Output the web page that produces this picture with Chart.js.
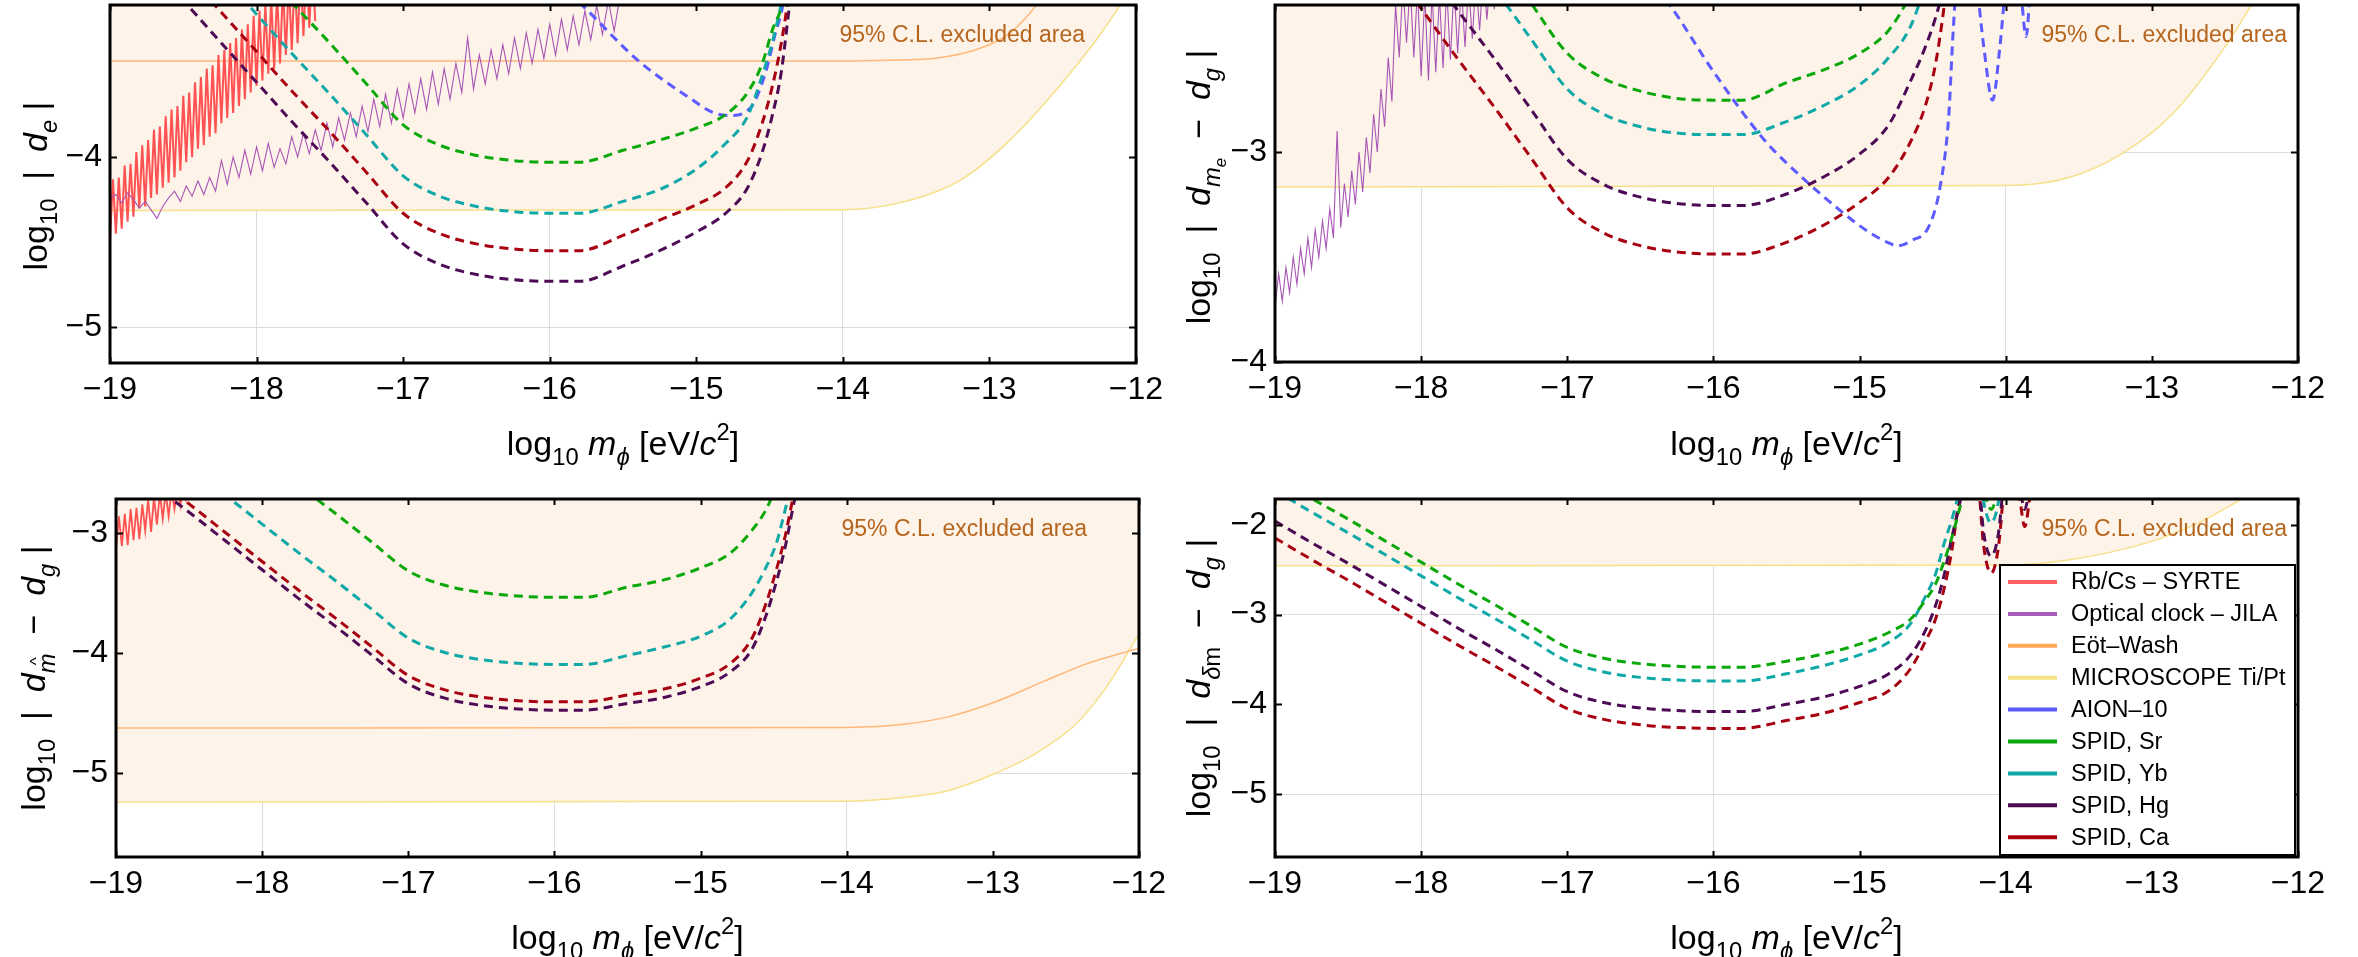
<!DOCTYPE html>
<html>
<head>
<meta charset="utf-8">
<script src="https://cdn.jsdelivr.net/npm/chart.js@4.4.1/dist/chart.umd.min.js"></script>
<style>
  html, body { margin: 0; padding: 0; background: #fff; }
  #wrap { position: relative; width: 2358px; height: 957px; overflow: hidden; }
  canvas { position: absolute; }
</style>
</head>
<body>
<div id="wrap">
  <canvas id="c1" width="1180" height="478" style="left:0;top:0"></canvas>
  <canvas id="c2" width="1179" height="478" style="left:1179px;top:0"></canvas>
  <canvas id="c3" width="1180" height="479" style="left:0;top:478px"></canvas>
  <canvas id="c4" width="1179" height="479" style="left:1179px;top:478px"></canvas>
</div>
<script>
const FONT = '"Liberation Sans", Arial, Helvetica, sans-serif';

// legend
const legendNames = ['Rb/Cs – SYRTE', 'Optical clock – JILA', 'Eöt–Wash', 'MICROSCOPE Ti/Pt', 'AION–10',
  'SPID, Sr', 'SPID, Yb', 'SPID, Hg', 'SPID, Ca'];
const legendColors = ['#FF5F5F', '#A95CB8', '#FFA85A', '#F5E184', '#5B5BFF',
  '#0AA80A', '#11A8A8', '#4D0A55', '#A80010'];

const xTicks = [-19, -18, -17, -16, -15, -14, -13, -12];

// SPID sensitivity curves, log10 m on x
const spidX = [-19, -18.75, -18.5, -18.25, -18, -17.75, -17.5, -17.25, -17, -16.75, -16.5, -16.25, -16, -15.8,
  -15.5, -15.25, -15, -14.8, -14.65, -14.55, -14.48, -14.42, -14.37, -14.32, -14.28];
const spidX4 = [-19, -18.75, -18.5, -18.25, -18, -17.75, -17.5, -17.25, -17, -16.75, -16.5, -16.25, -16, -15.8,
  -15.5, -15.25, -15, -14.8, -14.65, -14.55, -14.48, -14.42, -14.37, -14.32, -14.28,
  -14.2, -14.15, -14.1, -14.05, -14.0, -13.95, -13.9, -13.87, -13.84, -13.8];

// panel 1: d_e
const sr1 = [-1.91, -2.15, -2.38, -2.62, -2.86, -3.10, -3.33, -3.57, -3.81, -3.93, -3.99, -4.02, -4.03, -4.03, -3.96, -3.90, -3.83, -3.75, -3.62, -3.45, -3.25, -3.12, -2.90, -2.60, -2.30];
const yb1 = [-2.21, -2.45, -2.68, -2.92, -3.16, -3.40, -3.63, -3.87, -4.11, -4.23, -4.29, -4.32, -4.33, -4.33, -4.26, -4.19, -4.07, -3.92, -3.76, -3.52, -3.32, -3.10, -2.90, -2.60, -2.30];
const hg1 = [-2.61, -2.85, -3.08, -3.32, -3.56, -3.80, -4.03, -4.27, -4.51, -4.63, -4.69, -4.72, -4.73, -4.73, -4.64, -4.55, -4.44, -4.33, -4.18, -3.97, -3.75, -3.50, -3.15, -2.80, -2.40];
const ca1 = [-2.43, -2.67, -2.90, -3.14, -3.38, -3.62, -3.85, -4.09, -4.33, -4.45, -4.51, -4.54, -4.55, -4.55, -4.46, -4.37, -4.28, -4.18, -4.02, -3.80, -3.58, -3.33, -3.05, -2.70, -2.30];
const aionX1 = [-16.1, -15.78, -15.4, -15.05, -14.88, -14.77, -14.63, -14.53, -14.46, -14.41, -14.36, -14.3];
const aionY1 = [-2.85, -3.106, -3.43, -3.65, -3.74, -3.755, -3.71, -3.51, -3.27, -3.106, -2.75, -2.3];
const eotX1 = [-19, -14, -13.7, -13.38, -13.03, -12.86, -12.68, -12.5];
const eotY1 = [-3.435, -3.435, -3.43, -3.42, -3.35, -3.27, -3.106, -2.85];
const micX1 = [-19, -14, -13.55, -13.2, -12.86, -12.51, -12.27, -12.11, -12.0];
const micY1 = [-4.314, -4.31, -4.255, -4.137, -3.90, -3.57, -3.31, -3.11, -2.95];
// Rb/Cs, x from -19 every 0.02
const rbcs1 = [-4.49, -4.13, -4.45, -4.12, -4.42, -4.05, -4.38, -4.04, -4.35, -3.97,
  -4.30, -3.93, -4.29, -3.90, -4.24, -3.84, -4.22, -3.82, -4.18, -3.76,
  -4.15, -3.72, -4.12, -3.70, -4.08, -3.64, -4.03, -3.62, -4.00, -3.56,
  -3.95, -3.53, -3.93, -3.48, -3.88, -3.46, -3.86, -3.40, -3.80, -3.37,
  -3.77, -3.33, -3.74, -3.30, -3.70, -3.25, -3.66, -3.22, -3.62, -3.17,
  -3.58, -3.14, -3.55, -3.10, -3.51, -3.06, -3.48, -3.03, -3.45, -2.99,
  -3.40, -2.96, -3.37, -2.93, -3.33, -2.90, -3.29, -2.87, -3.24, -2.84, -3.20];
// JILA, x from -19 every 0.04
const jila1 = [-4.24, -4.22, -4.27, -4.21, -4.25, -4.30, -4.26, -4.31, -4.36, -4.29,
  -4.24, -4.20, -4.26, -4.17, -4.23, -4.14, -4.22, -4.12, -4.20, -4.02,
  -4.16, -4.00, -4.12, -3.96, -4.10, -3.94, -4.08, -3.92, -4.06, -3.95,
  -4.04, -3.88, -4.00, -3.86, -3.98, -3.84, -3.96, -3.80, -3.94, -3.77,
  -3.90, -3.74, -3.88, -3.70, -3.85, -3.66, -3.82, -3.63, -3.80, -3.60,
  -3.77, -3.57, -3.74, -3.54, -3.72, -3.50, -3.69, -3.48, -3.66, -3.45,
  -3.62, -3.30, -3.60, -3.40, -3.57, -3.37, -3.54, -3.34, -3.51, -3.30,
  -3.48, -3.27, -3.45, -3.25, -3.42, -3.22, -3.40, -3.19, -3.37, -3.17,
  -3.34, -3.14, -3.31, -3.11, -3.28, -3.08, -3.26, -3.05];

// panel 2: d_me - d_g
const sr2 = [-0.63, -0.87, -1.10, -1.34, -1.58, -1.82, -2.05, -2.29, -2.53, -2.65, -2.71, -2.745, -2.753, -2.753, -2.67, -2.61, -2.53, -2.42, -2.25, -2.10, -1.90, -1.70, -1.50, -1.30, -1.10];
const yb2 = [-0.80, -1.04, -1.27, -1.51, -1.75, -1.99, -2.22, -2.46, -2.70, -2.82, -2.88, -2.91, -2.917, -2.917, -2.855, -2.78, -2.68, -2.55, -2.40, -2.20, -2.00, -1.80, -1.60, -1.40, -1.20];
const hg2 = [-1.135, -1.375, -1.605, -1.845, -2.085, -2.325, -2.555, -2.795, -3.035, -3.155, -3.215, -3.245, -3.255, -3.255, -3.20, -3.12, -3.01, -2.87, -2.66, -2.50, -2.36, -2.20, -2.00, -1.70, -1.40];
const ca2 = [-1.366, -1.606, -1.836, -2.076, -2.316, -2.556, -2.786, -3.026, -3.266, -3.386, -3.446, -3.476, -3.486, -3.486, -3.43, -3.35, -3.24, -3.12, -2.95, -2.78, -2.58, -2.30, -2.00, -1.70, -1.40];
const aionX2 = [-16.6, -16.3, -16.0, -15.65, -15.37, -15.13, -14.95, -14.81, -14.74, -14.64, -14.53, -14.45, -14.39,
  -14.36, -14.3, -14.2, -14.15, -14.09, -14.04, -14.0, -13.95, -13.9, -13.86, -13.83, -13.78];
const aionY2 = [-2.06, -2.30, -2.617, -2.944, -3.136, -3.28, -3.375, -3.43, -3.447, -3.42, -3.36, -3.17, -2.83,
  -2.43, -1.9, -2.2, -2.5, -2.753, -2.5, -2.2, -1.9, -2.2, -2.45, -2.2, -1.9];
const micX2 = [-19, -14, -13.56, -13.21, -12.86, -12.51, -12.32, -12.2];
const micY2 = [-3.167, -3.16, -3.12, -3.01, -2.82, -2.51, -2.30, -2.15];
// JILA, x from -19 every 0.025
const jila2 = [-3.74, -3.58, -3.71, -3.55, -3.67, -3.50, -3.63, -3.46, -3.58, -3.41,
  -3.55, -3.37, -3.50, -3.33, -3.46, -3.27, -3.41, -2.90, -3.36, -3.15,
  -3.31, -3.09, -3.25, -3.00, -3.19, -2.93, -3.10, -2.82, -3.00, -2.70,
  -2.88, -2.55, -2.76, -2.30, -2.55, -2.20, -2.48, -2.20, -2.55, -2.22,
  -2.64, -2.25, -2.66, -2.24, -2.62, -2.25, -2.60, -2.22, -2.56, -2.21,
  -2.53, -2.20, -2.50, -2.20, -2.46, -2.18, -2.42, -2.16, -2.37, -2.14,
  -2.32, -2.12, -2.29, -2.10, -2.25];

// panel 3: d_m^ - d_g
const sr3 = [-1.415, -1.655, -1.885, -2.125, -2.365, -2.605, -2.835, -3.075, -3.315, -3.435, -3.495, -3.525, -3.535, -3.535, -3.45, -3.39, -3.29, -3.17, -2.98, -2.80, -2.60, -2.40, -2.20, -2.00, -1.80];
const yb3 = [-1.975, -2.215, -2.445, -2.685, -2.925, -3.165, -3.395, -3.635, -3.875, -3.995, -4.055, -4.085, -4.095, -4.095, -4.02, -3.95, -3.86, -3.72, -3.50, -3.28, -3.08, -2.80, -2.55, -2.30, -2.00];
const hg3 = [-2.356, -2.596, -2.826, -3.066, -3.306, -3.546, -3.776, -4.016, -4.256, -4.376, -4.436, -4.466, -4.476, -4.476, -4.42, -4.37, -4.28, -4.16, -3.97, -3.68, -3.40, -3.11, -2.80, -2.50, -2.20];
const ca3 = [-2.287, -2.527, -2.757, -2.997, -3.237, -3.477, -3.707, -3.947, -4.187, -4.307, -4.367, -4.397, -4.407, -4.407, -4.35, -4.30, -4.21, -4.09, -3.88, -3.58, -3.30, -3.02, -2.72, -2.45, -2.20];
const eotX3 = [-19, -14, -13.58, -13.30, -12.99, -12.64, -12.36, -12.0];
const eotY3 = [-4.624, -4.62, -4.59, -4.53, -4.41, -4.23, -4.09, -3.96];
const micX3 = [-19, -14, -13.58, -13.30, -12.99, -12.71, -12.43, -12.22, -12.0];
const micY3 = [-5.242, -5.235, -5.20, -5.145, -5.006, -4.84, -4.59, -4.28, -3.84];
// Rb/Cs, x from -19 every 0.02
const rbcs3 = [-3.14, -2.86, -3.11, -2.84, -3.10, -2.80, -3.06, -2.79, -3.05, -2.76, -2.98, -2.72, -2.99,
  -2.70, -2.93, -2.67, -2.88, -2.66, -2.86, -2.64, -2.80, -2.62, -2.77, -2.60, -2.72, -2.58];

// panel 4: d_dm - d_g
const sr4 = [-1.467, -1.707, -1.937, -2.177, -2.417, -2.657, -2.887, -3.127, -3.367, -3.487, -3.547, -3.577, -3.587, -3.587,
  -3.52, -3.44, -3.33, -3.20, -3.05, -2.84, -2.66, -2.40, -2.15, -1.85, -1.60,
  -1.2, -1.6, -1.83, -1.6, -1.2, -1.0, -1.2, -1.34, -1.2, -1.0];
const yb4 = [-1.62, -1.86, -2.09, -2.33, -2.57, -2.81, -3.04, -3.28, -3.52, -3.64, -3.70, -3.73, -3.74, -3.74,
  -3.66, -3.57, -3.45, -3.31, -3.10, -2.80, -2.55, -2.20, -1.95, -1.65, -1.40,
  -1.1, -1.75, -1.98, -1.75, -1.1, -0.9, -1.3, -1.49, -1.3, -0.9];
const hg4 = [-1.96, -2.20, -2.43, -2.67, -2.91, -3.15, -3.38, -3.62, -3.86, -3.98, -4.04, -4.07, -4.08, -4.08,
  -4.00, -3.92, -3.80, -3.66, -3.45, -3.18, -2.90, -2.55, -2.15, -1.80, -1.50,
  -1.3, -2.1, -2.35, -2.1, -1.3, -1.0, -1.6, -1.83, -1.6, -1.0];
const ca4 = [-2.148, -2.388, -2.618, -2.858, -3.098, -3.338, -3.568, -3.808, -4.048, -4.168, -4.228, -4.258, -4.268, -4.268,
  -4.18, -4.10, -3.98, -3.85, -3.60, -3.30, -3.05, -2.70, -2.30, -1.75, -1.45,
  -1.4, -2.25, -2.54, -2.25, -1.4, -1.1, -1.75, -2.02, -1.75, -1.1];
const micX4 = [-19, -14, -13.56, -13.03, -12.68, -12.40, -12.2];
const micY4 = [-2.457, -2.45, -2.39, -2.20, -1.98, -1.73, -1.55];

// ---------- helpers ----------
function pts(xs, ys) { return ys.map((y, i) => ({ x: xs[i], y: y })); }
function gridX(x0, step, n) {
  const a = [];
  for (let i = 0; i < n; i++) a.push(+(x0 + i * step).toFixed(3));
  return a;
}
function spid(k, xs, ys) {
  return { label: legendNames[k], data: pts(xs, ys), borderColor: legendColors[k], borderWidth: 3,
    borderDash: [9, 6], pointRadius: 0, cubicInterpolationMode: 'monotone', fill: false, clip: 0 };
}
function noisy(k, xs, ys, col, w) {
  return { label: legendNames[k], data: pts(xs, ys), borderColor: col, borderWidth: w,
    pointRadius: 0, tension: 0, fill: false, clip: 0 };
}
function bound(k, xs, ys, col, fillIt) {
  return { label: legendNames[k], data: pts(xs, ys), borderColor: col, borderWidth: 1.5,
    pointRadius: 0, cubicInterpolationMode: 'monotone', clip: 0,
    fill: fillIt ? 'end' : false, backgroundColor: '#FEF3E9' };
}
const fmt = v => (v < 0 ? '\u2212' : '') + Math.abs(v);

const SUB = { k: 0.7, dy: 0.28 };
const lg = [{ t: 'log' }, Object.assign({ t: '10' }, SUB), { t: '  |  ' }];
const yTitle1 = lg.concat([{ t: 'd', i: 1 }, Object.assign({ t: 'e', i: 1 }, SUB), { t: ' |' }]);
const yTitle2 = lg.concat([{ t: 'd', i: 1 }, Object.assign({ t: 'm', i: 1 }, SUB), { t: 'e', i: 1, k: 0.5, dy: 0.45 },
  { t: '  \u2212  ' }, { t: 'd', i: 1 }, Object.assign({ t: 'g', i: 1 }, SUB), { t: ' |' }]);
const yTitle3 = lg.concat([{ t: 'd', i: 1 }, Object.assign({ t: 'm', i: 1, hat: 1 }, SUB),
  { t: '  \u2212  ' }, { t: 'd', i: 1 }, Object.assign({ t: 'g', i: 1 }, SUB), { t: ' |' }]);
const yTitle4 = lg.concat([{ t: 'd', i: 1 }, Object.assign({ t: '\u03b4', i: 1 }, SUB), Object.assign({ t: 'm' }, SUB),
  { t: '  \u2212  ' }, { t: 'd', i: 1 }, Object.assign({ t: 'g', i: 1 }, SUB), { t: ' |' }]);
const xTitle = [{ t: 'log' }, Object.assign({ t: '10' }, SUB), { t: ' ' }, { t: 'm', i: 1 },
  Object.assign({ t: '\u03d5', i: 1 }, SUB), { t: ' [eV/' }, { t: 'c', i: 1 }, { t: '2', k: 0.7, dy: -0.45 }, { t: ']' }];

function drawRich(ctx, parts, cx, cy, size, rot) {
  ctx.save();
  ctx.translate(cx, cy);
  if (rot) ctx.rotate(-Math.PI / 2);
  let w = 0;
  const items = parts.map(p => {
    const fs = size * (p.k || 1);
    const font = (p.i ? 'italic ' : '') + fs + 'px ' + FONT;
    ctx.font = font;
    const tw = ctx.measureText(p.t).width;
    const it = { p: p, font: font, tw: tw, x: w, fs: fs };
    w += tw;
    return it;
  });
  ctx.fillStyle = '#000';
  ctx.textBaseline = 'alphabetic';
  ctx.textAlign = 'left';
  items.forEach(it => {
    const y = size * 0.36 + (it.p.dy || 0) * size;
    ctx.font = it.font;
    ctx.fillText(it.p.t, it.x - w / 2, y);
    if (it.p.hat) {
      ctx.font = (size * 0.5) + 'px ' + FONT;
      ctx.textAlign = 'center';
      ctx.fillText('^', it.x - w / 2 + it.tw / 2 + 2, y - it.fs * 0.55);
      ctx.textAlign = 'left';
    }
  });
  ctx.restore();
}

const deco = {
  id: 'deco',
  afterDatasetsDraw(chart, args, o) {
    const ctx = chart.ctx, a = chart.chartArea;
    const xs = chart.scales.x, ys = chart.scales.y;
    ctx.save();
    ctx.strokeStyle = '#000';
    ctx.lineWidth = 2;
    xTicks.forEach(v => {
      const px = Math.round(xs.getPixelForValue(v)) + 0.5;
      ctx.beginPath();
      ctx.moveTo(px, a.bottom); ctx.lineTo(px, a.bottom - 6);
      ctx.moveTo(px, a.top); ctx.lineTo(px, a.top + 6);
      ctx.stroke();
    });
    o.yTicks.forEach(v => {
      const py = Math.round(ys.getPixelForValue(v)) + 0.5;
      ctx.beginPath();
      ctx.moveTo(a.left, py); ctx.lineTo(a.left + 7, py);
      ctx.moveTo(a.right, py); ctx.lineTo(a.right - 7, py);
      ctx.stroke();
    });
    ctx.lineWidth = 3;
    ctx.strokeRect(a.left, a.top, a.right - a.left, a.bottom - a.top);
    ctx.restore();
  },
  afterDraw(chart, args, o) {
    const ctx = chart.ctx, a = chart.chartArea;
    drawRich(ctx, o.yTitle, o.yTitlePos[0], o.yTitlePos[1], 34, true);
    drawRich(ctx, xTitle, (a.left + a.right) / 2, o.xTitleY, 34, false);
    ctx.save();
    ctx.font = '23px ' + FONT;
    ctx.fillStyle = '#B5651D';
    ctx.textAlign = 'right';
    ctx.textBaseline = 'middle';
    ctx.fillText('95% C.L. excluded area', a.right - o.clRight, a.top + 31);
    ctx.restore();
    if (o.legend) {
      const bw = 295, bh = 290;
      const bx = a.right - 3 - bw, by = a.bottom - 2 - bh;
      ctx.save();
      ctx.fillStyle = '#fff';
      ctx.fillRect(bx, by, bw, bh);
      ctx.strokeStyle = '#000';
      ctx.lineWidth = 2;
      ctx.strokeRect(bx, by, bw, bh);
      ctx.font = '23.5px ' + FONT;
      ctx.textBaseline = 'middle';
      legendNames.forEach((n, i) => {
        const y = by + 17 + i * 31.9;
        ctx.strokeStyle = legendColors[i];
        ctx.lineWidth = 4;
        ctx.beginPath(); ctx.moveTo(bx + 8, y); ctx.lineTo(bx + 57, y); ctx.stroke();
        ctx.fillStyle = '#000';
        ctx.fillText(n, bx + 71, y + 1);
      });
      ctx.restore();
    }
  }
};

function makeChart(id, p) {
  return new Chart(document.getElementById(id), {
    type: 'line',
    data: { datasets: p.datasets },
    options: {
      responsive: false,
      animation: false,
      layout: { padding: { top: p.pad.top, right: p.pad.right, left: 0, bottom: 0 } },
      plugins: {
        legend: { display: false },
        tooltip: { enabled: false },
        filler: { drawTime: 'beforeDatasetsDraw' },
        deco: { yTicks: p.yTicks, yTitle: p.yTitle, yTitlePos: p.yTitlePos, xTitleY: p.xTitleY,
          clRight: p.clRight, legend: p.legend }
      },
      scales: {
        x: {
          type: 'linear', min: -19, max: -12,
          afterBuildTicks: s => { s.ticks = xTicks.map(v => ({ value: v })); },
          afterFit: s => { s.height = p.xh; s.paddingLeft = 0; s.paddingRight = 0; },
          border: { display: false },
          grid: { drawTicks: false, lineWidth: 1,
            color: c => ([-18, -16, -14].includes(c.tick && c.tick.value) ? '#DCDCDC' : 'rgba(0,0,0,0)') },
          ticks: { font: { size: 32, family: FONT }, color: '#000', padding: 8, maxRotation: 0,
            autoSkip: false, callback: fmt }
        },
        y: {
          type: 'linear', min: p.yMin, max: p.yMax,
          afterBuildTicks: s => { s.ticks = p.yTicks.map(v => ({ value: v })); },
          afterFit: s => { s.width = p.yw; s.paddingTop = 0; s.paddingBottom = 0; },
          border: { display: false },
          grid: { drawTicks: false, lineWidth: 1,
            color: c => ([-3, -5].includes(c.tick && c.tick.value) ? '#DCDCDC' : 'rgba(0,0,0,0)') },
          ticks: { font: { size: 32, family: FONT }, color: '#000', padding: 8, callback: fmt }
        }
      }
    },
    plugins: [deco]
  });
}

makeChart('c1', {
  yMin: -5.21, yMax: -3.106, yTicks: [-5, -4], pad: { top: 5, right: 44 }, yw: 110, xh: 115,
  yTitle: yTitle1, yTitlePos: [35, 186], xTitleY: 443, clRight: 51, legend: false,
  datasets: [
    spid(5, spidX, sr1), spid(6, spidX, yb1), spid(8, spidX, ca1), spid(7, spidX, hg1),
    spid(4, aionX1, aionY1),
    noisy(1, gridX(-19, 0.04, jila1.length), jila1, '#A855B5', 1.1),
    noisy(0, gridX(-19, 0.02, rbcs1.length), rbcs1, '#FF5252', 2),
    bound(2, eotX1, eotY1, '#FFB87A', false),
    bound(3, micX1, micY1, '#F7E08A', true)
  ]
});

makeChart('c2', {
  yMin: -4, yMax: -2.30, yTicks: [-4, -3], pad: { top: 5, right: 60 }, yw: 96, xh: 116,
  yTitle: yTitle2, yTitlePos: [19, 187], xTitleY: 443, clRight: 11, legend: false,
  datasets: [
    spid(5, spidX, sr2), spid(6, spidX, yb2), spid(7, spidX, hg2), spid(8, spidX, ca2),
    spid(4, aionX2, aionY2),
    noisy(1, gridX(-19, 0.025, jila2.length), jila2, '#A855B5', 1.1),
    bound(3, micX2, micY2, '#F7E08A', true)
  ]
});

makeChart('c3', {
  yMin: -5.70, yMax: -2.716, yTicks: [-5, -4, -3], pad: { top: 21, right: 41 }, yw: 116, xh: 100,
  yTitle: yTitle3, yTitlePos: [33, 200], xTitleY: 459, clRight: 52, legend: false,
  datasets: [
    spid(5, spidX, sr3), spid(6, spidX, yb3), spid(8, spidX, ca3), spid(7, spidX, hg3),
    noisy(0, gridX(-19, 0.02, rbcs3.length), rbcs3, '#FF5252', 1.8),
    bound(2, eotX3, eotY3, '#FFB87A', false),
    bound(3, micX3, micY3, '#F7E08A', true)
  ]
});

makeChart('c4', {
  yMin: -5.70, yMax: -1.714, yTicks: [-5, -4, -3, -2], pad: { top: 21, right: 60 }, yw: 96, xh: 100,
  yTitle: yTitle4, yTitlePos: [19, 200], xTitleY: 459, clRight: 11, legend: true,
  datasets: [
    spid(5, spidX4, sr4), spid(6, spidX4, yb4), spid(7, spidX4, hg4), spid(8, spidX4, ca4),
    bound(3, micX4, micY4, '#F7E08A', true)
  ]
});
</script>
</body>
</html>
